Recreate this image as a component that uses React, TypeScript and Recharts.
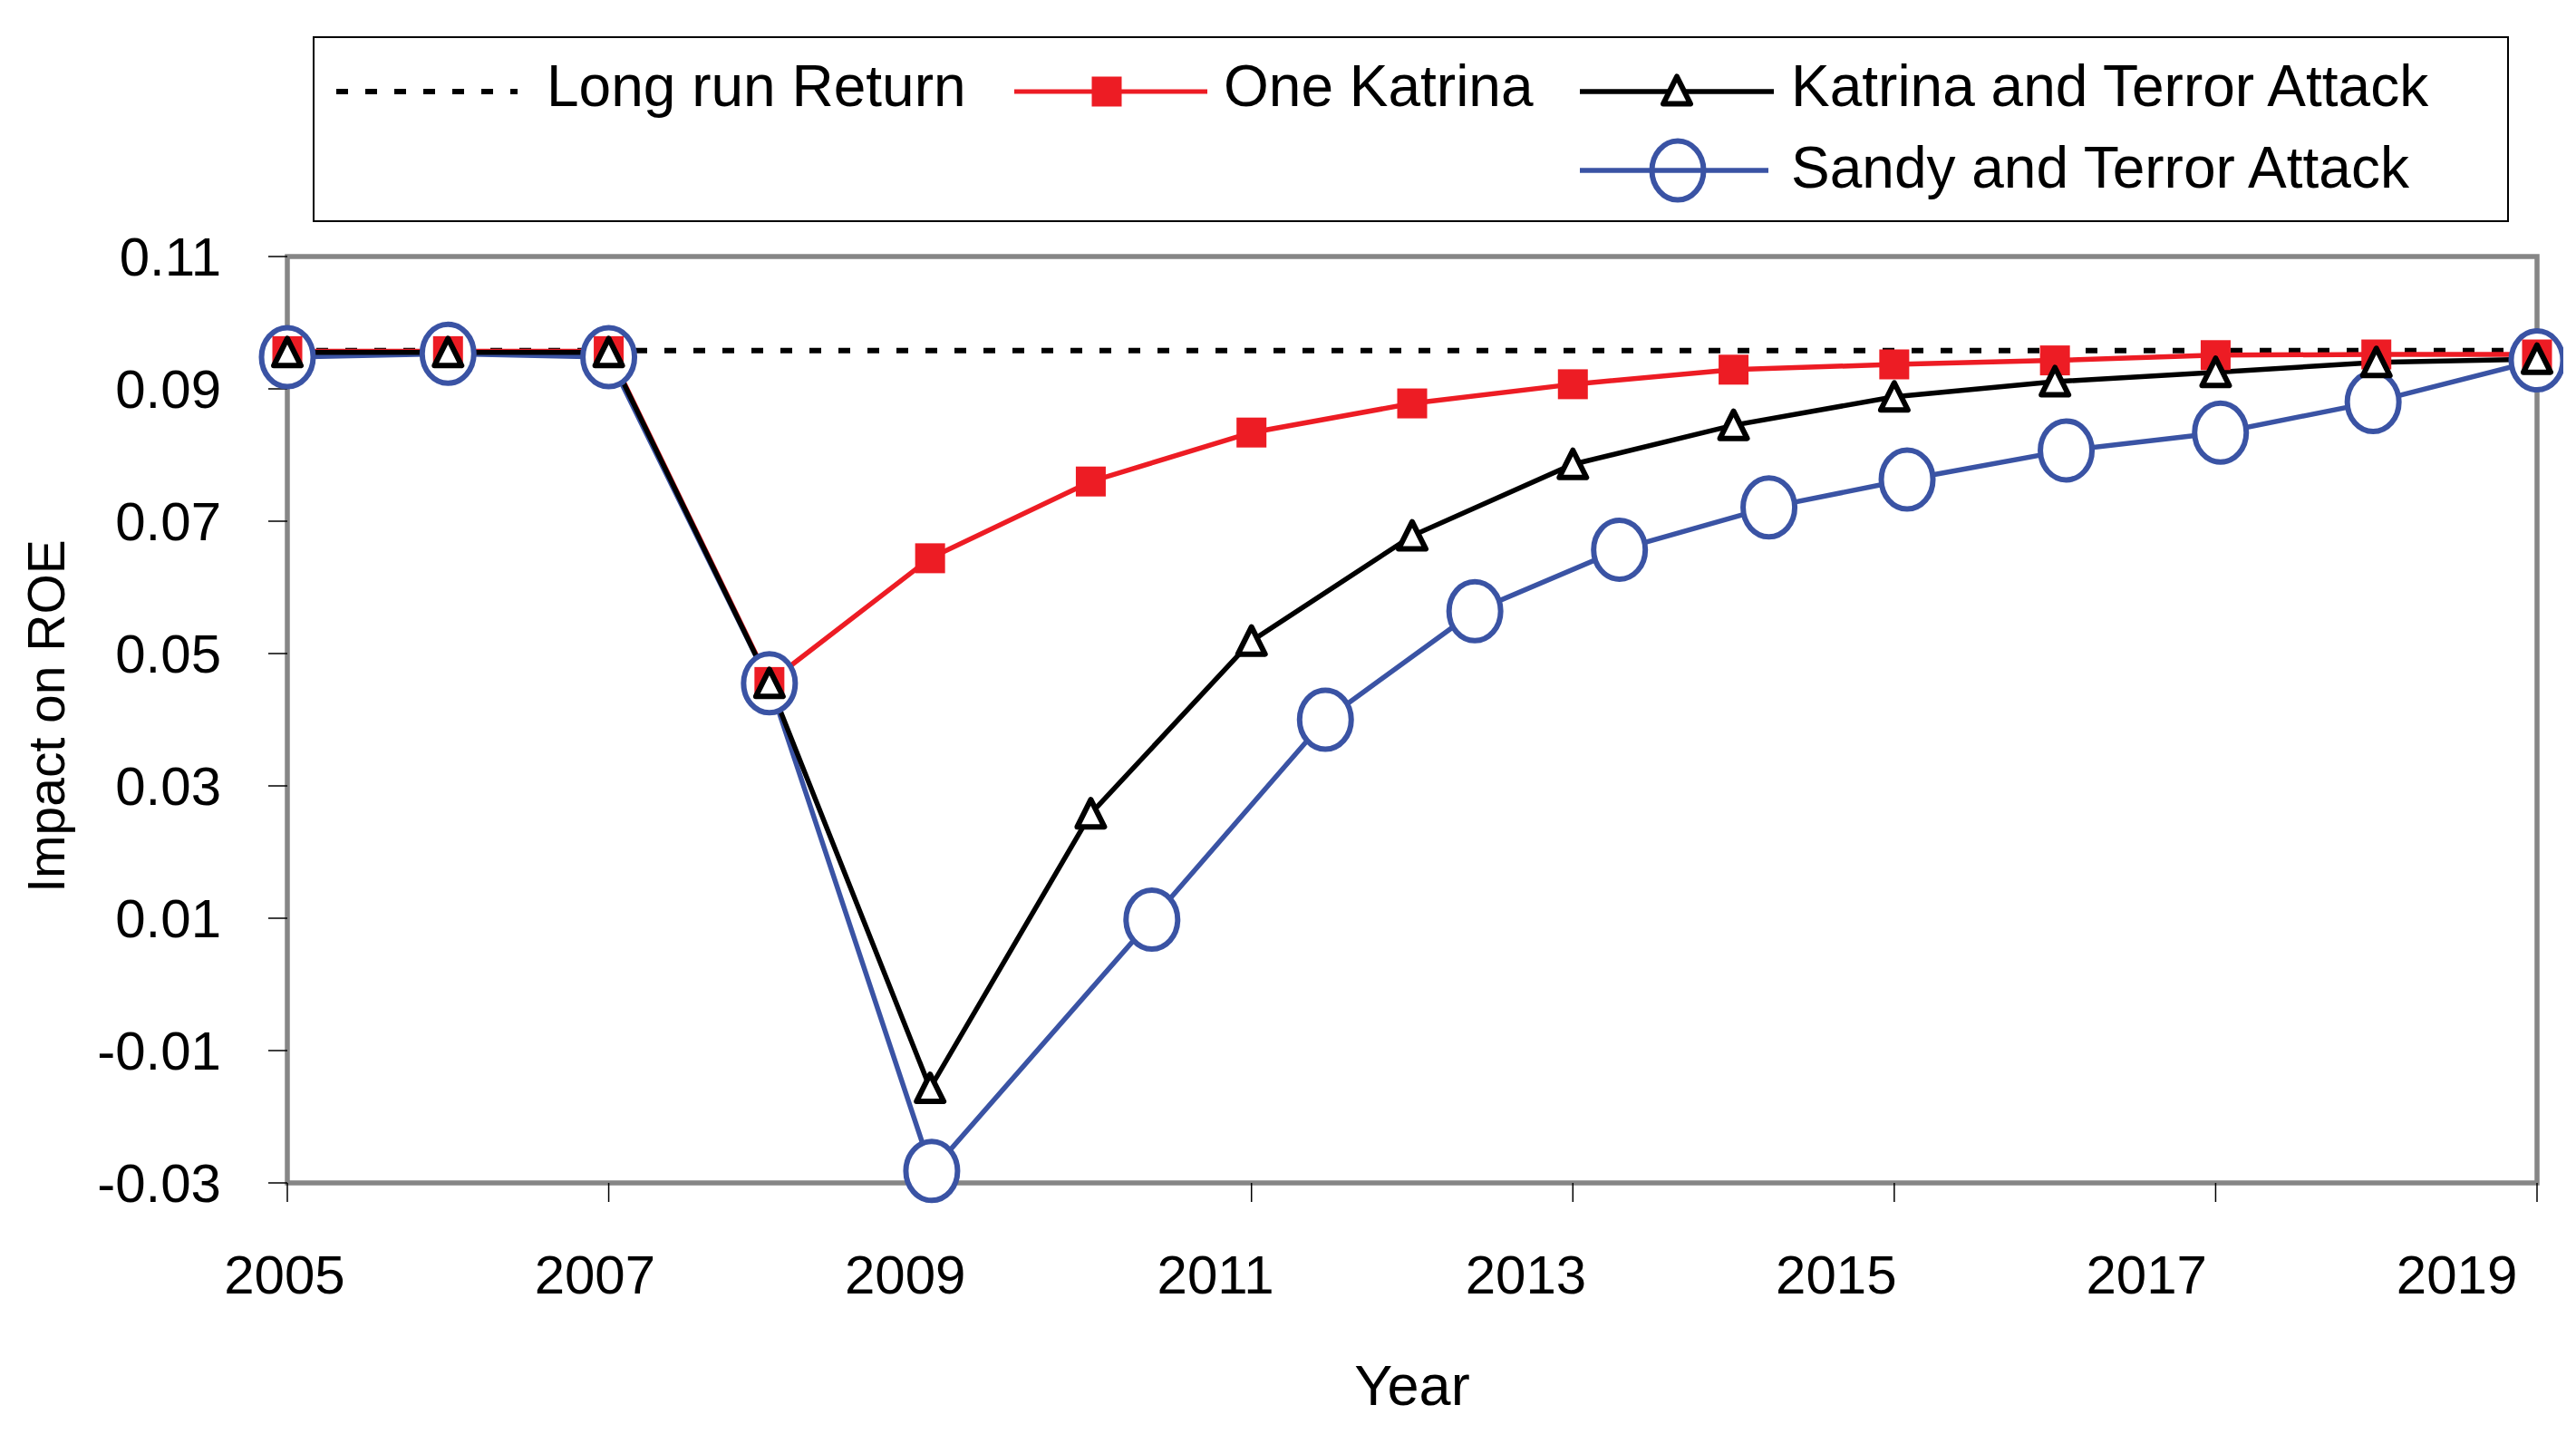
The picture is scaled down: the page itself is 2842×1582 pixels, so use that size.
import React from 'react';
import { LineChart, Line, XAxis, YAxis, ReferenceArea, Legend, Label } from 'recharts';

const years = [2005, 2006, 2007, 2008, 2009, 2010, 2011, 2012, 2013, 2014, 2015, 2016, 2017, 2018, 2019];
const longRunReturn = [0.0958, 0.0958, 0.0958, 0.0958, 0.0958, 0.0958, 0.0958, 0.0958, 0.0958, 0.0958, 0.0958, 0.0958, 0.0958, 0.0958, 0.0958];
const oneKatrina = [0.0957, 0.0957, 0.0957, 0.0457, 0.0644, 0.076, 0.0834, 0.0878, 0.0907, 0.0929, 0.0937, 0.0943, 0.0951, 0.0952, 0.0952];
const katrinaTerror = [0.0955, 0.0955, 0.0955, 0.0455, -0.0157, 0.0258, 0.0519, 0.0678, 0.0786, 0.0845, 0.0888, 0.0911, 0.0925, 0.094, 0.0945];
const sandyYears = [2005, 2006, 2007, 2008, 2009.01, 2010.38, 2011.46, 2012.39, 2013.29, 2014.22, 2015.08, 2016.07, 2017.03, 2017.98, 2019];
const sandyTerror = [0.0948, 0.0953, 0.0948, 0.0455, -0.0282, 0.0098, 0.04, 0.0564, 0.0657, 0.0721, 0.0763, 0.0807, 0.0834, 0.088, 0.0943];

const xTicks = [2005, 2007, 2009, 2011, 2013, 2015, 2017, 2019];
const yTicks = [-0.03, -0.01, 0.01, 0.03, 0.05, 0.07, 0.09, 0.11];

const NAME_LONG = 'Long run Return';
const NAME_ONE = 'One Katrina';
const NAME_KT = 'Katrina and Terror Attack';
const NAME_ST = 'Sandy and Terror Attack';

const RED = '#ED1C24';
const BLUE = '#3A53A4';
const BLACK = '#000000';
const FRAME = '#868686';
const FONT = "'Liberation Sans', Arial, sans-serif";

const toPoints = (xs: number[], ys: number[]) => xs.map((x, i) => ({ x, y: ys[i] }));

const longRunData = toPoints(years, longRunReturn);
const oneData = toPoints(years, oneKatrina);
const ktData = toPoints(years, katrinaTerror);
const stData = toPoints(sandyYears, sandyTerror);

const Square = ({ cx, cy }: { cx: number; cy: number }) => (
  <rect x={cx - 16.5} y={cy - 16.5} width={33} height={33} fill={RED} />
);
const Triangle = ({ cx, cy }: { cx: number; cy: number }) => (
  <path
    d={`M${cx},${cy - 15.5} L${cx + 15},${cy + 14.5} L${cx - 15},${cy + 14.5} Z`}
    fill="#fff"
    stroke={BLACK}
    strokeWidth={6}
    strokeLinejoin="round"
  />
);
const Ellipse = ({ cx, cy, fill }: { cx: number; cy: number; fill: string }) => (
  <ellipse cx={cx} cy={cy} rx={28.5} ry={32.5} fill={fill} stroke={BLUE} strokeWidth={6} />
);

const squareDot = (p: any) => (
  <g key={`sq-${p.index}`}>
    <Square cx={p.cx} cy={p.cy} />
  </g>
);
const triangleDot = (p: any) => (
  <g key={`tr-${p.index}`}>
    <Triangle cx={p.cx} cy={p.cy} />
  </g>
);
const ellipseDot = (p: any) => (
  <g key={`el-${p.index}`}>
    <Ellipse cx={p.cx} cy={p.cy} fill="#fff" />
  </g>
);

const renderXTick = (props: any) => {
  const { x, y, payload, index } = props;
  return (
    <text
      x={x - 3 - 12.2 * index}
      y={y}
      dy="0.71em"
      textAnchor="middle"
      fill="#000"
      fontSize={60}
      fontFamily={FONT}
    >
      {payload.value}
    </text>
  );
};

const renderYLabel = (props: any) => {
  const vb = props.viewBox;
  const lx = vb.x + 63;
  const ly = vb.y + vb.height / 2 - 4;
  return (
    <text
      x={lx}
      y={ly}
      transform={`rotate(-90 ${lx} ${ly})`}
      textAnchor="middle"
      fill="#000"
      fontSize={57}
      fontFamily={FONT}
    >
      Impact on ROE
    </text>
  );
};

const renderXLabel = (props: any) => {
  const vb = props.viewBox;
  return (
    <text
      x={vb.x + vb.width / 2}
      y={vb.y + 245}
      textAnchor="middle"
      fill="#000"
      fontSize={63}
      fontFamily={FONT}
    >
      Year
    </text>
  );
};

const renderLegend = () => {
  const r1 = 61;
  const r2 = 148;
  const t1 = 77;
  const t2 = 167;
  const textProps = { fill: '#000', fontSize: 64, fontFamily: FONT };
  return (
    <svg width={2423} height={205} style={{ display: 'block' }}>
      <rect x={1} y={1} width={2421} height={203} fill="#fff" stroke="#000" strokeWidth={2} />
      <line x1={26} x2={226} y1={r1} y2={r1} stroke={BLACK} strokeWidth={6} strokeDasharray="13 19" />
      <text x={258} y={t1} {...textProps}>{NAME_LONG}</text>

      <line x1={774} x2={987} y1={r1} y2={r1} stroke={RED} strokeWidth={5} />
      <Square cx={876} cy={r1} />
      <text x={1005} y={t1} {...textProps}>{NAME_ONE}</text>

      <line x1={1398} x2={1612} y1={r1} y2={r1} stroke={BLACK} strokeWidth={5.5} />
      <Triangle cx={1505} cy={r1 - 1} />
      <text x={1631} y={t1} {...textProps}>{NAME_KT}</text>

      <line x1={1398} x2={1606} y1={r2} y2={r2} stroke={BLUE} strokeWidth={5.5} />
      <Ellipse cx={1506} cy={r2} fill="none" />
      <text x={1631} y={t2} {...textProps}>{NAME_ST}</text>
    </svg>
  );
};

export default function App() {
  return (
    <div style={{ width: 2820, height: 1560, background: '#fff' }}>
      <LineChart width={2820} height={1560} margin={{ top: 275, right: 29, bottom: 0, left: 0 }}>
        <ReferenceArea
          x1={2005}
          x2={2019}
          y1={-0.03}
          y2={0.11}
          fill="none"
          fillOpacity={0}
          stroke={FRAME}
          strokeWidth={5.5}
          ifOverflow="visible"
        />
        <XAxis
          type="number"
          dataKey="x"
          domain={[2005, 2019]}
          ticks={xTicks}
          interval={0}
          height={263}
          axisLine={false}
          tickLine={{ stroke: '#000', strokeWidth: 1.5 }}
          tickSize={21}
          tickMargin={58}
          tick={renderXTick}
        >
          <Label content={renderXLabel} />
        </XAxis>
        <YAxis
          type="number"
          domain={[-0.03, 0.11]}
          ticks={yTicks}
          interval={0}
          width={309}
          axisLine={false}
          tickLine={{ stroke: '#000', strokeWidth: 1.5 }}
          tickSize={21}
          tickMargin={52}
          tick={{ fontSize: 60, fill: '#000', fontFamily: FONT }}
          tickFormatter={(v: number) => v.toFixed(2)}
        >
          <Label content={renderYLabel} />
        </YAxis>
        <Legend
          layout="vertical"
          align="center"
          verticalAlign="middle"
          content={renderLegend}
          wrapperStyle={{ left: 337, top: 32, width: 2423, height: 205 }}
        />
        <Line
          data={longRunData}
          dataKey="y"
          name={NAME_LONG}
          stroke={BLACK}
          strokeWidth={6}
          strokeDasharray="13 19"
          dot={false}
          activeDot={false}
          isAnimationActive={false}
        />
        <Line
          data={stData}
          dataKey="y"
          name={NAME_ST}
          stroke={BLUE}
          strokeWidth={5.5}
          dot={ellipseDot}
          activeDot={false}
          isAnimationActive={false}
        />
        <Line
          data={oneData}
          dataKey="y"
          name={NAME_ONE}
          stroke={RED}
          strokeWidth={5.5}
          dot={squareDot}
          activeDot={false}
          isAnimationActive={false}
        />
        <Line
          data={ktData}
          dataKey="y"
          name={NAME_KT}
          stroke={BLACK}
          strokeWidth={5.5}
          dot={triangleDot}
          activeDot={false}
          isAnimationActive={false}
        />
      </LineChart>
    </div>
  );
}
